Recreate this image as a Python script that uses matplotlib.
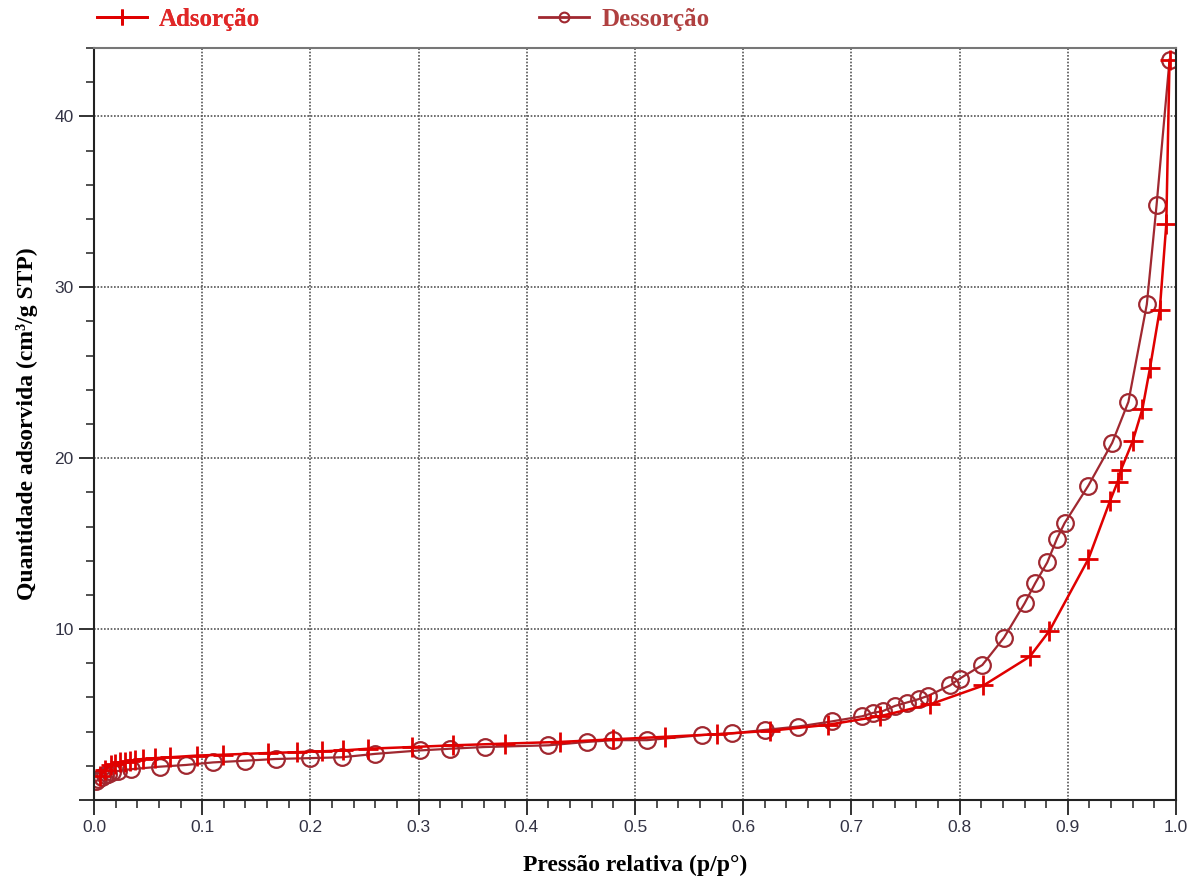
import matplotlib.pyplot as plt
from matplotlib.ticker import MultipleLocator
from matplotlib.lines import Line2D

# Isoterma de adsorção/dessorção de N2
ads_p = [0.006, 0.010, 0.016, 0.019, 0.024, 0.029, 0.033, 0.038, 0.045, 0.056,
         0.070, 0.095, 0.119, 0.161, 0.188, 0.211, 0.230, 0.253, 0.294, 0.332,
         0.380, 0.431, 0.480, 0.528, 0.576, 0.625, 0.678, 0.726, 0.773, 0.822,
         0.865, 0.883, 0.919, 0.939, 0.946, 0.949, 0.960, 0.969, 0.976, 0.985,
         0.991, 0.994]
ads_q = [1.4, 1.75, 2.05, 2.1, 2.2, 2.25, 2.3, 2.35, 2.4, 2.45,
         2.5, 2.6, 2.65, 2.75, 2.8, 2.85, 2.9, 3.0, 3.1, 3.2,
         3.3, 3.4, 3.55, 3.7, 3.85, 4.05, 4.4, 4.9, 5.6, 6.7,
         8.4, 9.9, 14.1, 17.5, 18.6, 19.3, 21.0, 22.9, 25.3, 28.7,
         33.7, 43.3]

des_p = [0.002, 0.004, 0.007, 0.010, 0.013, 0.017, 0.022, 0.034, 0.061, 0.085,
         0.110, 0.140, 0.168, 0.200, 0.229, 0.260, 0.301, 0.329, 0.361, 0.420,
         0.456, 0.480, 0.511, 0.562, 0.590, 0.620, 0.651, 0.682, 0.710, 0.720,
         0.729, 0.740, 0.751, 0.762, 0.771, 0.791, 0.800, 0.821, 0.841, 0.860,
         0.870, 0.881, 0.890, 0.897, 0.919, 0.941, 0.956, 0.973, 0.982, 0.994]
des_q = [1.1, 1.2, 1.35, 1.45, 1.55, 1.65, 1.7, 1.8, 1.95, 2.05,
         2.2, 2.3, 2.4, 2.45, 2.5, 2.7, 2.9, 3.0, 3.1, 3.2,
         3.4, 3.5, 3.5, 3.8, 3.9, 4.1, 4.3, 4.6, 4.9, 5.1,
         5.2, 5.5, 5.7, 5.9, 6.1, 6.7, 7.1, 7.9, 9.5, 11.5,
         12.7, 13.9, 15.3, 16.2, 18.4, 20.9, 23.3, 29.0, 34.8, 43.3]

cor_ads = '#e00000'
cor_des = '#a02830'

fig = plt.figure(figsize=(11.96, 8.83), dpi=100)
ax = fig.add_axes([0.0786, 0.094, 0.9047, 0.8516])

ax.plot(des_p, des_q, color=cor_des, lw=1.6, marker='o', ms=12,
        mfc='none', mec=cor_des, mew=1.6)
ax.plot(ads_p, ads_q, color=cor_ads, lw=1.8, marker='+', ms=15,
        mec=cor_ads, mew=2)

ax.set_xlim(0, 1.0)
ax.set_ylim(0, 44)
ax.xaxis.set_major_locator(MultipleLocator(0.1))
ax.xaxis.set_minor_locator(MultipleLocator(0.02))
ax.yaxis.set_major_locator(MultipleLocator(10))
ax.yaxis.set_minor_locator(MultipleLocator(2))
ax.set_xticks([0, 0.1, 0.2, 0.3, 0.4, 0.5, 0.6, 0.7, 0.8, 0.9, 1.0])
ax.set_xticklabels(['0.0', '0.1', '0.2', '0.3', '0.4', '0.5', '0.6', '0.7', '0.8', '0.9', '1.0'])
ax.set_yticks([0, 10, 20, 30, 40])
ax.set_yticklabels(['', '10', '20', '30', '40'])

ax.tick_params(which='major', direction='out', length=11, width=1.3, color='#222222',
               labelsize=12.5, labelcolor='#333344')
ax.tick_params(which='minor', direction='out', length=6, width=1.1, color='#222222')
for lab in ax.get_xticklabels() + ax.get_yticklabels():
    lab.set_family('Liberation Sans')

ax.grid(True, which='major', color='#555555', ls=(0, (1, 1)), lw=1.2)
for s in ax.spines.values():
    s.set_color('#222222')
    s.set_linewidth(1.5)
ax.spines['top'].set_color('#777777')

ax.set_xlabel('Pressão relativa (p/p°)', family='Liberation Serif', fontweight='bold',
              fontsize=17, labelpad=14)
ax.set_ylabel('Quantidade adsorvida (cm³/g STP)', family='Liberation Serif',
              fontweight='bold', fontsize=17, labelpad=12)

# legenda acima do gráfico
h_ads = Line2D([], [], color=cor_ads, lw=2, marker='+', ms=12, mew=2)
h_des = Line2D([], [], color=cor_des, lw=2, marker='o', ms=7, mfc='none', mew=1.5)
leg1 = fig.legend([h_ads], ['Adsorção'], loc='center left', bbox_to_anchor=(0.062, 0.978),
                  frameon=False, handlelength=2.0, handletextpad=0.5,
                  prop={'family': 'Liberation Serif', 'weight': 'bold', 'size': 18})
leg1.get_texts()[0].set_color('#e02828')
leg2 = fig.legend([h_des], ['Dessorção'], loc='center left', bbox_to_anchor=(0.432, 0.978),
                  frameon=False, handlelength=2.0, handletextpad=0.5,
                  prop={'family': 'Liberation Serif', 'weight': 'bold', 'size': 18})
leg2.get_texts()[0].set_color('#b04040')
fig.add_artist(leg1)

fig.savefig('out.png', dpi=100)
